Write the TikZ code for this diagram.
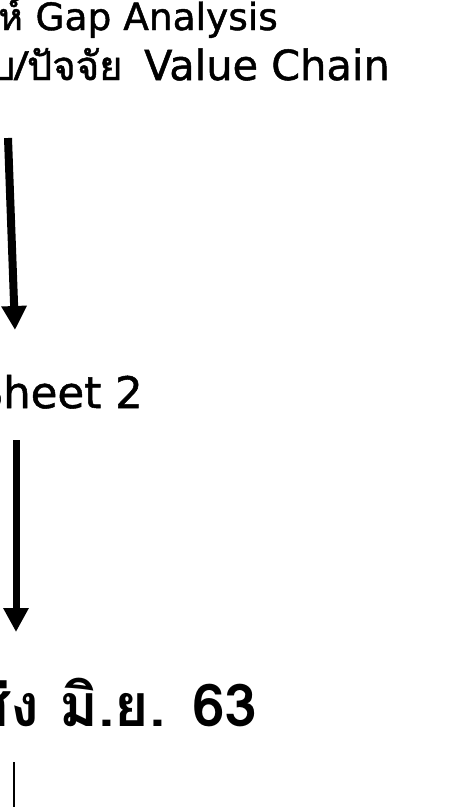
\documentclass[tikz,border=0pt]{standalone}
\usepackage{fontspec}
\newfontfamily\thaifont[Script=Thai,FakeBold=1.2]{Loma}
\newfontfamily\latinfont[FakeBold=1.2]{DejaVu Sans}
\newfontfamily\duefont[Script=Thai]{Loma}
\usetikzlibrary{arrows.meta}

\begin{document}
\begin{tikzpicture}[x=1pt,y=-1pt,
  steptext/.style={anchor=base east,inner sep=0pt,font=\latinfont\fontsize{37.5}{40}\selectfont},
  flowarrow/.style={line width=7pt,-{Triangle[width=24pt,length=24pt]}}]
\useasboundingbox (0,0) rectangle (462,807);
\clip (0,0) rectangle (462,807);

% text lines (cut at the left edge)
\node[steptext] (gap) at (278,30) {{\thaifont ผลการวิเคราะห์ }Gap Analysis};
\node[steptext,font=\latinfont\fontsize{41.5}{44}\selectfont] (chain) at (390,80)
  {{\thaifont\fontsize{40}{44}\selectfont ตามกรอบ/ปัจจัย\hspace{8pt} }Value Chain};
\node[steptext,font=\latinfont\fontsize{43.5}{48}\selectfont] (sheet) at (143,408) {Sheet 2};
\node[steptext,font=\duefont\bfseries\fontsize{59}{64}\selectfont] (due) at (258,726) {กำหนดส่ง มิ.ย. 63};

% arrows
\coordinate (a1) at (8,138);
\coordinate (b1) at (15,330);
\coordinate (a2) at (16,440);
\coordinate (b2) at (16,632);
\coordinate (c1) at (14,762);
\coordinate (c2) at (14,810);
\draw[flowarrow,line width=8pt] (a1) -- (b1);
\draw[flowarrow] (a2) -- (b2);
\draw[line width=2.5pt] (c1) -- (c2);
\end{tikzpicture}
\end{document}
